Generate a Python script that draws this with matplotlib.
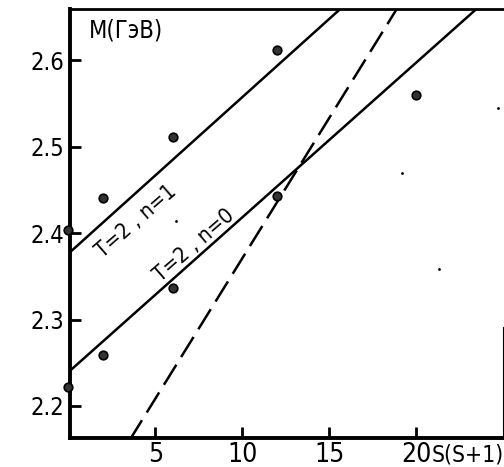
import matplotlib
matplotlib.use("Agg")
import matplotlib.pyplot as plt
import numpy as np

# ---- data ----
s_n0 = [0, 2, 6, 12, 20]
m_n0 = [2.222, 2.259, 2.337, 2.443, 2.560]
s_n1 = [0, 2, 6, 12]
m_n1 = [2.403, 2.441, 2.511, 2.612]
specks_x = [24.7, 19.2, 21.3, 6.2]
specks_y = [2.545, 2.469, 2.358, 2.414]
# lines: intercept, slope
line_n1 = (2.376, 0.0181)
line_n0 = (2.239, 0.0179)
line_dash = (2.046, 0.03246)
xticks = [5, 10, 15, 20]
yticks = [2.2, 2.3, 2.4, 2.5, 2.6]
ytick_labels = ["2.2", "2.3", "2.4", "2.5", "2.6"]
label_n1 = "T=2 , n=1"
label_n0 = "T=2 , n=0"
ylabel = "M(ГэВ)"
xlabel = "S(S+1)"

plt.rcParams['font.family'] = ['DejaVu Sans']
plt.rcParams['font.stretch'] = 'condensed'
plt.rcParams['lines.scale_dashes'] = False

fig = plt.figure(figsize=(5.04, 4.67), dpi=100)
ax = fig.add_axes([70/504, 29/467, 434/504, 429/467])
xmin, xmax = 0.1, 25.05
ymin, ymax = 2.163, 2.659
ax.set_xlim(xmin, xmax)
ax.set_ylim(ymin, ymax)

xs = np.array([xmin, xmax])
for (b, k), ls in [(line_n1, '-'), (line_n0, '-'), (line_dash, (0, (17, 6.5)))]:
    ax.plot(xs, b + k * xs, color='black', lw=1.8, ls=ls, solid_capstyle='butt')

ax.plot(s_n0, m_n0, 'o', ms=6.2, mfc='#333333', mec='black', mew=1.2, clip_on=False, zorder=5)
ax.plot(s_n1, m_n1, 'o', ms=6.2, mfc='#333333', mec='black', mew=1.2, clip_on=False, zorder=5)
ax.plot(specks_x, specks_y, 'o', ms=2, color='black', mew=0)

ax.text(3.9, 2.413, label_n1, rotation=41, ha='center', va='center', fontsize=15.5)
ax.text(7.25, 2.386, label_n0, rotation=41, ha='center', va='center', fontsize=15.5)
ax.text(1.2, 2.634, ylabel, ha='left', va='center', fontsize=17)

ax.set_xticks(xticks)
ax.set_xticklabels([str(t) for t in xticks], fontsize=19)
ax.set_yticks(yticks)
ax.set_yticklabels(ytick_labels, fontsize=17)
ax.tick_params(axis='both', direction='in', length=8, width=2, color='black')
ax.tick_params(axis='x', pad=3)
ax.tick_params(axis='y', pad=4)

for side in ['left', 'bottom']:
    ax.spines[side].set_linewidth(2.8)
ax.spines['top'].set_linewidth(2.0)
ax.spines['right'].set_linewidth(1.5)
ax.spines['right'].set_bounds(ymin, 2.29)

fig.text(432/504, 1 - 455/467, xlabel, ha='left', va='center', fontsize=16.5)

fig.savefig("out.png", dpi=100)
